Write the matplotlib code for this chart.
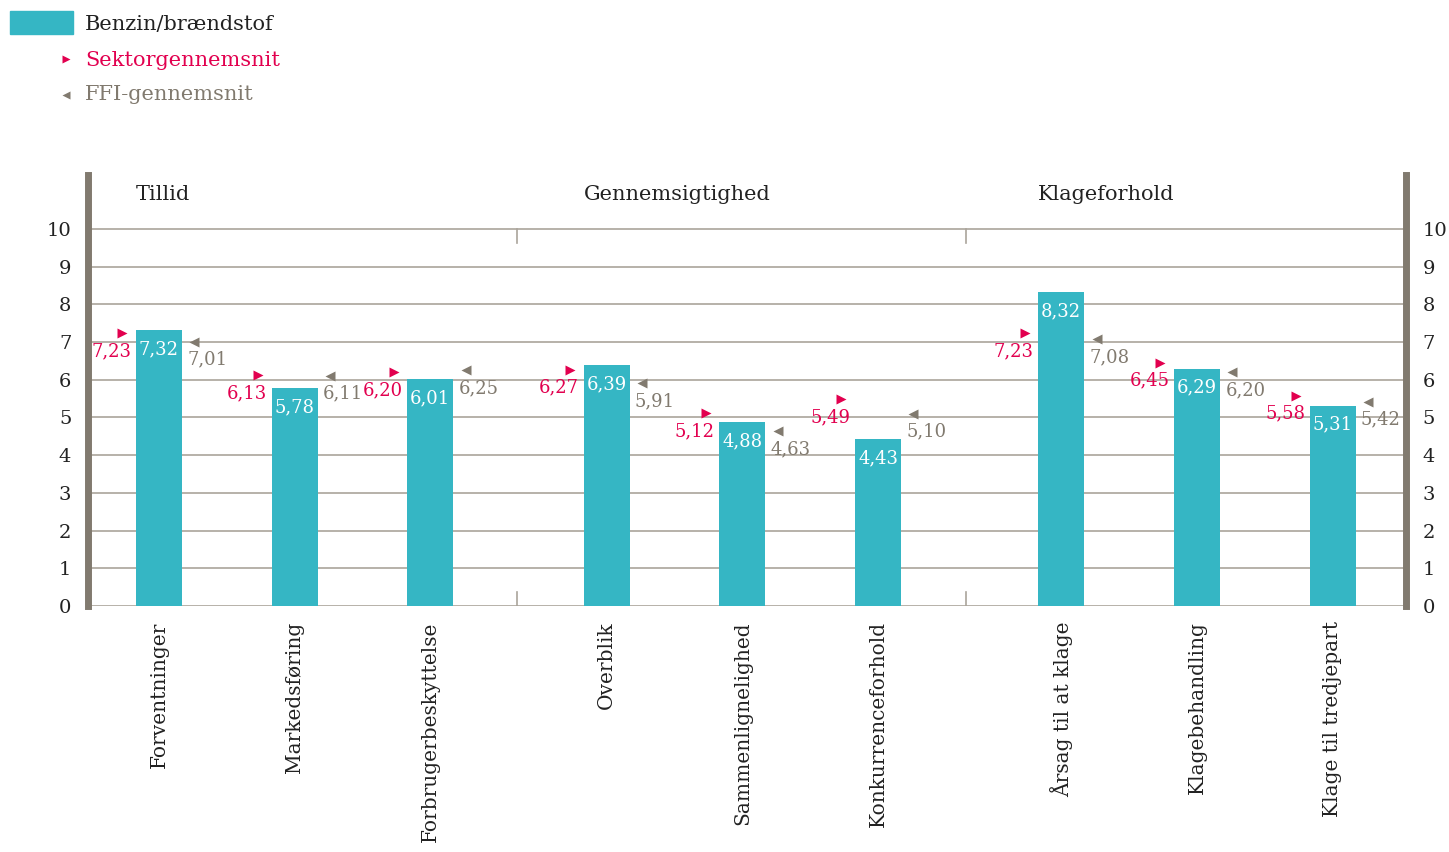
import numpy as np
import matplotlib.pyplot as plt

plt.rcParams['font.family'] = ['DejaVu Serif']

groups = ['Tillid', 'Gennemsigtighed', 'Klageforhold']
categories = ['Forventninger', 'Markedsføring', 'Forbrugerbeskyttelse',
              'Overblik', 'Sammenlignelighed', 'Konkurrenceforhold',
              'Årsag til at klage', 'Klagebehandling', 'Klage til tredjepart']
group_of = [0, 0, 0, 1, 1, 1, 2, 2, 2]
benzin = [7.32, 5.78, 6.01, 6.39, 4.88, 4.43, 8.32, 6.29, 5.31]
sektor = [7.23, 6.13, 6.20, 6.27, 5.12, 5.49, 7.23, 6.45, 5.58]
ffi = [7.01, 6.11, 6.25, 5.91, 4.63, 5.10, 7.08, 6.20, 5.42]

TEAL = '#35b6c4'
RED = '#e2004f'
GRAY = '#817a6f'
GRID = '#aaa49b'
INK = '#222222'


def fmt(v):
    return f'{v:.2f}'.replace('.', ',')


fig = plt.figure(figsize=(14.49, 8.52), dpi=100)
ax = fig.add_axes([0.0607, 0.2887, 0.9096, 0.5059])

# extra gap added in front of each group
group_shift = [0, 0.30, 0.65]
x = np.array([i + group_shift[g] for i, g in enumerate(group_of)])
bw = 0.34

ax.set_xlim(-0.523, 9.19)
ax.set_ylim(0, 11.43)

for yv in range(0, 11):
    ax.axhline(yv, color=GRID, lw=1.2, zorder=1)

# short separators between the three groups
for sx in [(x[2] + x[3]) / 2 - 0.01, (x[5] + x[6]) / 2 - 0.03]:
    ax.plot([sx, sx], [0, 0.38], color=GRID, lw=1.2, zorder=1)
    ax.plot([sx, sx], [10, 9.62], color=GRID, lw=1.2, zorder=1)

ax.bar(x, benzin, width=bw, color=TEAL, zorder=2)

for xi, b, s, f in zip(x, benzin, sektor, ffi):
    ax.annotate(fmt(b), (xi, b), xytext=(0, -10), textcoords='offset pixels',
                ha='center', va='top', color='white', fontsize=13, zorder=4)
    ax.plot(xi - 0.27, s, marker='>', color=RED, ms=7, mec='none', zorder=3)
    ax.annotate(fmt(s), (xi - 0.27, s), xytext=(9, -9), textcoords='offset pixels',
                ha='right', va='top', color=RED, fontsize=13, zorder=3)
    ax.plot(xi + 0.26, f, marker='<', color=GRAY, ms=7, mec='none', zorder=3)
    ax.annotate(fmt(f), (xi + 0.26, f), xytext=(-7, -9), textcoords='offset pixels',
                ha='left', va='top', color=GRAY, fontsize=13, zorder=3)

# group headings, aligned with the first bar of each group
for g, name in enumerate(groups):
    first = x[group_of.index(g)]
    ax.text(first - bw / 2, 10.9, name, ha='left', va='center', fontsize=15,
            color=INK)

ax.set_yticks(range(0, 11))
ax.set_yticklabels([str(v) for v in range(0, 11)], fontsize=14, color=INK)
ax.tick_params(axis='y', length=0, pad=12, labelright=True)
ax.set_xticks(x)
ax.set_xticklabels(categories, rotation=90, fontsize=14.5, color=INK)
ax.tick_params(axis='x', length=0, pad=11)

for side in ['left', 'right']:
    ax.spines[side].set_color(GRAY)
    ax.spines[side].set_linewidth(5)
ax.spines['top'].set_visible(False)
ax.spines['bottom'].set_visible(False)

# legend drawn by hand in figure coordinates
fig.patches.append(plt.Rectangle((10 / 1449, 1 - 34 / 852), 63 / 1449, 23 / 852,
                                 transform=fig.transFigure, color=TEAL))
fig.text(85 / 1449, 1 - 25 / 852, 'Benzin/brændstof', fontsize=15,
         color=INK, va='center')
fig.lines.append(plt.Line2D([66 / 1449], [1 - 59 / 852], marker='>', color=RED,
                            ms=6, mec='none', transform=fig.transFigure))
fig.text(85 / 1449, 1 - 60 / 852, 'Sektorgennemsnit', fontsize=15,
         color=RED, va='center')
fig.lines.append(plt.Line2D([66 / 1449], [1 - 95 / 852], marker='<', color=GRAY,
                            ms=6, mec='none', transform=fig.transFigure))
fig.text(85 / 1449, 1 - 95 / 852, 'FFI-gennemsnit', fontsize=15,
         color=GRAY, va='center')

fig.savefig('out.png', dpi=100)
